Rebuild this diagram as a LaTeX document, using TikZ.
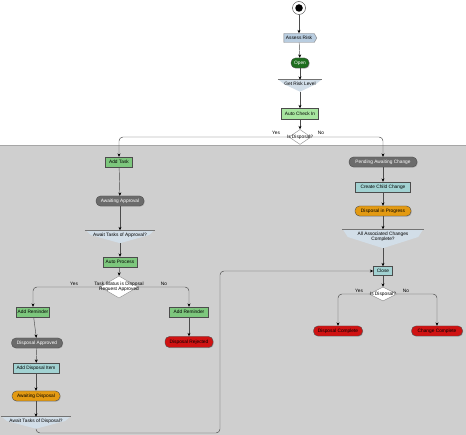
\documentclass[tikz,border=0pt]{standalone}
\usepackage{fontspec}
\setmainfont{Liberation Sans}
\usetikzlibrary{shapes.geometric,shapes.symbols,arrows.meta,shadows,calc}
\pgfdeclarelayer{bglayer}
\pgfdeclarelayer{shapelayer}
\pgfsetlayers{bglayer,shapelayer,main}
\definecolor{cBg}{HTML}{CFCFCF}
\definecolor{cGreen}{HTML}{7DC77D}
\definecolor{cLGreen}{HTML}{A8E6A0}
\definecolor{cDGreen}{HTML}{1E6E1E}
\definecolor{cDGray}{HTML}{6B6B6B}
\definecolor{cTeal}{HTML}{A2D2D2}
\definecolor{cOrange}{HTML}{E39A12}
\definecolor{cRed}{HTML}{D01212}
\definecolor{cSteel}{HTML}{B9CDE0}
\definecolor{cMerge}{HTML}{D2DEE8}
\newcommand{\mergeshape}[1]{%
  \begin{pgfonlayer}{shapelayer}
    \fill[cMerge] (#1.north west) -- (#1.north east) -- ([xshift=-5pt]#1.east) -- ([yshift=-3.5pt]#1.south) -- ([xshift=5pt]#1.west) -- cycle;
    \draw[black!55, line width=0.6pt] ([xshift=-1pt]#1.north west) -- ([xshift=1pt]#1.north east);
  \end{pgfonlayer}}
\begin{document}
\begin{tikzpicture}[x=1pt,y=-1pt,
  base/.style={font=\fontsize{4.8}{5.4}\selectfont, inner sep=1pt, align=center},
  box/.style={base, draw=black!70, line width=0.4pt, minimum height=10pt,
    drop shadow={shadow xshift=0.7pt,shadow yshift=-0.7pt,opacity=0.45}},
  grnbox/.style={box, fill=cGreen},
  tealbox/.style={box, fill=cTeal},
  state/.style={box, rounded corners=4.5pt},
  grystate/.style={state, fill=cDGray, text=white},
  orgstate/.style={state, fill=cOrange},
  redstate/.style={state, fill=cRed},
  merge/.style={base, inner sep=0.5pt},
  decis/.style={diamond, draw=black!45, fill=white, inner sep=0pt},
  lbl/.style={base, inner sep=0pt},
  conn/.style={draw=black!70, line width=0.45pt, -{Stealth[length=3.4pt,width=3pt,color=black]}, rounded corners=4pt},
]
\useasboundingbox (0,0) rectangle (466,435);
\begin{pgfonlayer}{bglayer}
  \fill[white] (0,0) rectangle (466,435);
  \fill[cBg] (0,145) rectangle (466,435);
  \draw[black!35, line width=0.6pt] (0,145) -- (466,145);
\end{pgfonlayer}

% top chain
\node[circle, draw=black!80, fill=white, minimum size=13pt, inner sep=0pt] (start) at (299,8) {};
\node[circle, fill=black, minimum size=7.5pt, inner sep=0pt] (startdot) at (start) {};
\node[base, signal, signal to=east, signal pointer angle=120, draw=black!50, fill=cSteel,
      minimum width=33pt, minimum height=9pt] (assess) at (299,38) {Assess Risk};
\node[state, fill=cDGreen, text=white, minimum width=18pt] (open) at (300,63) {Open};
\node[merge, minimum width=42pt, minimum height=8pt] (getrisk) at (300,84) {Get Risk Level};
\node[box, fill=cLGreen, minimum width=37pt, minimum height=11pt] (autock) at (300,114) {Auto Check In};
\node[decis, minimum width=22pt, minimum height=15pt] (dec1) at (300,137) {};
\node[lbl] (dec1t) at (300,137) {Is Disposal?};
\node[lbl] (yes1) at (276,133) {Yes};
\node[lbl] (no1) at (321,133) {No};

% left column
\node[grnbox, minimum width=27pt] (addtask) at (119,162) {Add Task};
\node[grystate, minimum width=48pt] (awaitappr) at (120,201) {Awaiting Approval};
\node[merge, minimum width=68pt, minimum height=9pt] (awaittask) at (120,235) {Await Tasks of Approval?};
\node[grnbox, minimum width=34pt] (autoproc) at (120,262) {Auto Process};
\node[decis, minimum width=38pt, minimum height=22pt] (dec2) at (119,287) {};
\node[lbl] (dec2t) at (119,287) {Task Status is Disposal\\Request Approved};
\node[lbl] (yes2) at (74,284) {Yes};
\node[lbl] (no2) at (164,284) {No};
\node[grnbox, minimum width=33pt] (addrem1) at (33,312) {Add Reminder};
\node[grnbox, minimum width=39pt] (addrem2) at (189,312) {Add Reminder};
\node[grystate, minimum width=51pt] (dispappr) at (37,343) {Disposal Approved};
\node[tealbox, minimum width=46pt] (adddisp) at (36,368) {Add Disposal Item};
\node[orgstate, minimum width=48pt] (awaitdisp) at (36,396) {Awaiting Disposal};
\node[merge, minimum width=68pt, minimum height=8pt] (awaittasks) at (36,421) {Await Tasks of Disposal?};
\node[redstate, minimum width=48pt, minimum height=11pt] (disprej) at (189,342) {Disposal Rejected};

% right column
\node[grystate, minimum width=68pt] (pending) at (383,162) {Pending Awaiting Change};
\node[tealbox, minimum width=55pt] (createchild) at (383,187) {Create Child Change};
\node[orgstate, minimum width=56pt] (dispprog) at (383,211) {Disposal in Progress};
\node[merge, minimum width=80pt, minimum height=15pt] (allassoc) at (383,237) {All Associated Changes\\Complete?};
\node[tealbox, minimum width=19pt, minimum height=9pt] (close) at (383,271) {Close};
\node[decis, minimum width=28pt, minimum height=14pt] (dec3) at (383,294) {};
\node[lbl] (dec3t) at (383,294) {Is Disposal?};
\node[lbl] (yes3) at (359,291) {Yes};
\node[lbl] (no3) at (406,291) {No};
\node[redstate, minimum width=49pt] (dispcomp) at (338,331) {Disposal Complete};
\node[redstate, minimum width=51pt] (chgcomp) at (437,331) {Change Complete};

\mergeshape{getrisk}
\mergeshape{awaittask}
\mergeshape{awaittasks}
\mergeshape{allassoc}

% connectors
\draw[conn] (start) -- (assess);
\draw[conn] (assess) -- (open);
\draw[conn] (open) -- (getrisk.north);
\draw[conn] ([yshift=-3.5pt]getrisk.south) -- (autock);
\draw[conn] (autock) -- (dec1.north);
\draw[conn] (dec1.west) -| (addtask.north);
\draw[conn] (dec1.east) -| (pending.north);

\draw[conn] (addtask) -- (awaitappr);
\draw[conn] (awaitappr) -- (awaittask.north);
\draw[conn] ([yshift=-3.5pt]awaittask.south) -- (autoproc);
\draw[conn] (autoproc) -- (dec2.north);
\draw[conn] (dec2.west) -| (addrem1.north);
\draw[conn] (dec2.east) -| (addrem2.north);
\draw[conn] (addrem1) -- (dispappr);
\draw[conn] (dispappr) -- (adddisp);
\draw[conn] (adddisp) -- (awaitdisp);
\draw[conn] (awaitdisp) -- (awaittasks.north);
\draw[conn] (addrem2) -- (disprej);
\coordinate (turn1) at (220,433);
\coordinate (turn2) at (220,271);
\draw[conn] ([yshift=-3.5pt]awaittasks.south) |- (turn1) -- (turn2) -- (close.west);

\draw[conn] (pending) -- (createchild);
\draw[conn] (createchild) -- (dispprog);
\draw[conn] (dispprog) -- (allassoc.north);
\draw[conn] ([yshift=-3.5pt]allassoc.south) -- (close);
\draw[conn] (close) -- (dec3.north);
\draw[conn] (dec3.west) -| (dispcomp.north);
\draw[conn] (dec3.east) -| (chgcomp.north);
\end{tikzpicture}
\end{document}
